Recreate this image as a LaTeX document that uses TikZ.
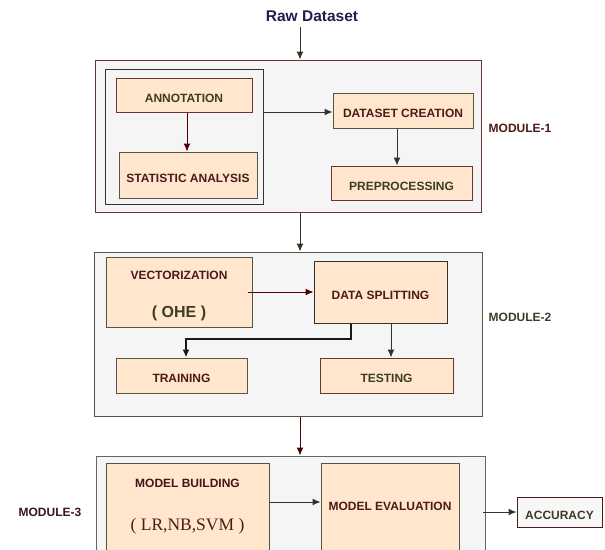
\documentclass[tikz,border=0pt]{standalone}
\usepackage{fontspec}
\setmainfont{Liberation Sans}
\newfontfamily\serifA{Liberation Serif}
\usetikzlibrary{arrows.meta}
\definecolor{peach}{HTML}{FFE6CC}
\definecolor{modfill}{HTML}{F5F5F5}
\definecolor{txtR}{HTML}{4D1A1A}
\definecolor{txtO}{HTML}{3D3D26}
\definecolor{bordR}{HTML}{6B3333}
\definecolor{bordO}{HTML}{555544}
\definecolor{navy}{HTML}{1F1F4F}
\definecolor{arrD}{HTML}{333326}
\definecolor{arrR}{HTML}{4D0000}
\tikzset{
  stepbox/.style={draw=bordO, fill=peach, line width=1pt, rectangle, inner sep=0pt},
  modbox/.style={draw=bordO, fill=modfill, line width=1pt, rectangle, inner sep=0pt},
  lbl/.style={font=\fontsize{12}{14}\selectfont\bfseries, inner sep=0pt},
  boxlbl/.style={lbl, text height=14.6pt, text depth=0pt},
  arr/.style={draw=arrD, line width=1pt, -{Latex[length=8pt,width=7pt]}},
  arrr/.style={draw=arrR, line width=1pt, -{Latex[length=8pt,width=7pt]}}
}
\begin{document}
\begin{tikzpicture}[x=1pt,y=-1pt]
\useasboundingbox (0,0) rectangle (605,549);
\clip (0,0) rectangle (605,549);
% title
\node[font=\fontsize{15.5}{18}\selectfont\bfseries, text=navy, inner sep=0pt] (raw) at (312,16) {Raw Dataset};
% module 1
\node[modbox, draw=bordR, minimum width=386pt, minimum height=152pt] (m1) at (288,136) {};
\node[draw=black!80, fill=modfill, line width=1pt, inner sep=0pt, minimum width=158pt, minimum height=135pt] (g1) at (184,136.5) {};
\node[stepbox, draw=bordR, minimum width=136pt, minimum height=34pt, boxlbl, text=txtO] (ann) at (184,95) {ANNOTATION};
\node[stepbox, minimum width=138pt, minimum height=46pt, boxlbl, text=txtR] (stat) at (188,175) {STATISTIC ANALYSIS};
\node[stepbox, minimum width=140pt, minimum height=35pt, boxlbl, text=txtR] (dc) at (403,110.5) {DATASET CREATION};
\node[stepbox, draw=bordR, minimum width=141pt, minimum height=34pt, boxlbl, text=txtO] (prep) at (401.5,183) {PREPROCESSING};
\node[lbl, text=txtR] (lab1) at (520,128) {MODULE-1};
% module 2
\node[modbox, minimum width=388pt, minimum height=164pt] (m2) at (288,334) {};
\node[stepbox, minimum width=146pt, minimum height=70pt] (vec) at (179,292) {};
\node[lbl, text=txtR] (vect) at (179,275) {VECTORIZATION};
\node[font=\fontsize{16}{18}\selectfont\bfseries, text=txtO, inner sep=0pt] (ohe) at (179,313) {( OHE )};
\node[stepbox, draw=black!80, minimum width=133pt, minimum height=62pt, boxlbl, text=txtR] (ds) at (380.5,292) {DATA SPLITTING};
\node[stepbox, minimum width=131pt, minimum height=35pt, boxlbl, text=txtR] (train) at (181.5,375.5) {TRAINING};
\node[stepbox, draw=bordR, minimum width=133pt, minimum height=35pt, boxlbl, text=txtO] (test) at (386.5,375.5) {TESTING};
\node[lbl, text=txtO] (lab2) at (520,317) {MODULE-2};
% module 3
\node[modbox, draw=black!60, minimum width=389pt, minimum height=119pt] (m3) at (290.5,515.5) {};
\node[stepbox, minimum width=163pt, minimum height=97pt] (mb) at (187.5,511.5) {};
\node[lbl, text=txtR!85!black] (mbt) at (187.5,483) {MODEL BUILDING};
\node[font=\serifA\fontsize{17.5}{20}\selectfont, text=txtR, inner sep=0pt] (mbs) at (187.5,526) {( LR,NB,SVM )};
\node[stepbox, minimum width=138pt, minimum height=97pt] (me) at (390,511.5) {};
\node[lbl, text=txtR] (met) at (390,506) {MODEL EVALUATION};
\node[draw=txtR, fill=white!97!black, line width=1pt, minimum width=85pt, minimum height=30pt, boxlbl, text=txtO] (acc) at (559.5,512) {ACCURACY};
\node[lbl, text=txtR!80!black] (lab3) at (50,512) {MODULE-3};
% connectors
\draw[arr] ([xshift=-12pt,yshift=-5pt]raw.south) -- ([xshift=12pt]m1.north);
\draw[arrr] ([xshift=3pt]ann.south) -- ([xshift=3pt]ann.south |- stat.north);
\draw[arr] (g1.east |- 0,112) -- (dc.west |- 0,112);
\draw[arr] ([xshift=-6pt]dc.south) -- ([xshift=-6pt]dc.south |- prep.north);
\draw[arr] ([xshift=12pt]m1.south) -- ([xshift=12pt]m2.north);
\draw[arrr] ([xshift=-5pt]vec.east) -- (ds.west);
\draw[draw=black!90, line width=2pt, -{Latex[length=8pt,width=7pt]}] ([xshift=-29.5pt]ds.south) |- ([xshift=4.5pt]train.north |- 0,339) -- ([xshift=4.5pt]train.north);
\draw[arr] ([xshift=10.5pt]ds.south) -- ([xshift=10.5pt]ds.south |- test.north);
\draw[arrr] ([xshift=12pt]m2.south) -- ([xshift=9.5pt]m3.north);
\draw[arr] (mb.east |- 0,502) -- (me.west |- 0,502);
\draw[arr] ([xshift=-3pt]m3.east |- acc.west) -- (acc.west);
\end{tikzpicture}
\end{document}
